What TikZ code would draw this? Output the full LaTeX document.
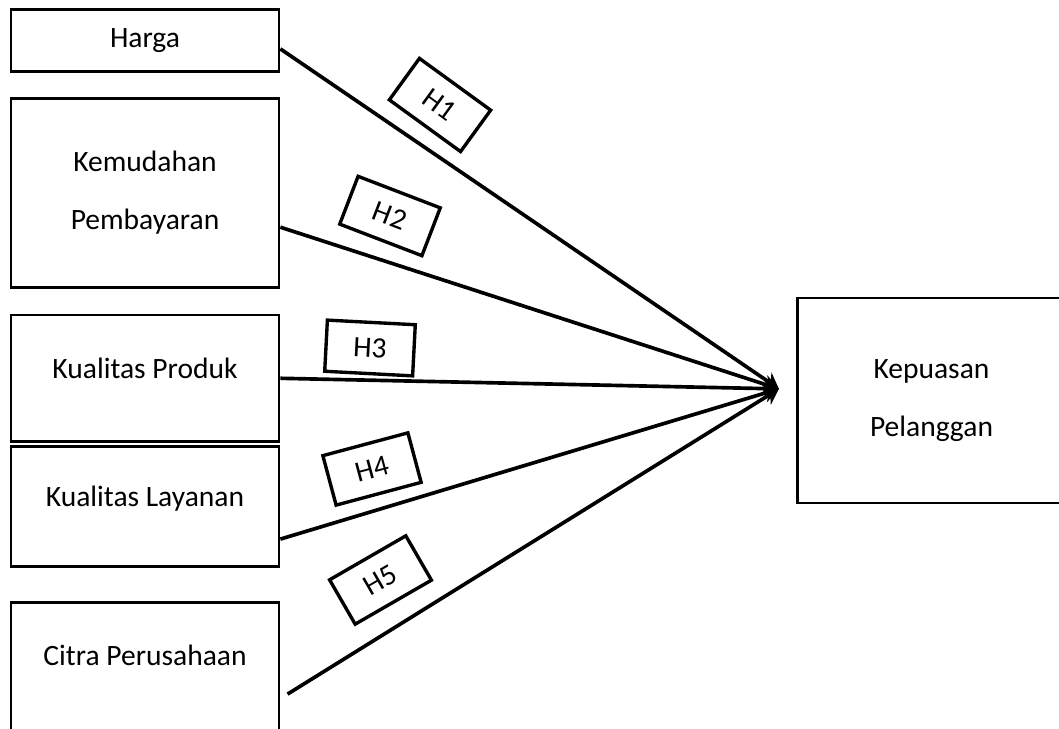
\documentclass[tikz,border=0pt]{standalone}
\usepackage{fontspec}
\setmainfont{Carlito}
\usetikzlibrary{arrows.meta}

\begin{document}
\begin{tikzpicture}[x=0.025cm, y=0.025cm, >={Stealth[length=0.38cm,width=0.46cm]}]
        \tikzstyle{var}=[draw, line width=1.9pt, shape=rectangle, minimum width=6.7cm, align=center, inner sep=0pt, font=\fontsize{21}{41}\selectfont]
        \tikzstyle{single}=[text height=0.5cm, text depth=0.5cm]
        \tikzstyle{hyp}=[draw, line width=2.4pt, shape=rectangle, minimum width=2.2cm, minimum height=1.28cm, inner sep=0pt, font=\fontsize{21}{25}\selectfont]
        \tikzstyle{path}=[->, line width=2.6pt]

        \useasboundingbox (0,0) rectangle (1059,729);

        \node[var, minimum height=1.56cm](harga) at (145, 688.5){Harga};
        \node[var, minimum height=4.72cm](kemudahan) at (145, 536.2){Kemudahan\\Pembayaran};
        \node[var, single, minimum height=3.17cm](produk) at (145, 350.7){Kualitas Produk};
        \node[var, single, minimum height=3.0cm](layanan) at (145, 222.3){Kualitas Layanan};
        \node[var, text height=0.5cm, text depth=1.09cm, minimum height=3.75cm](citra) at (145, 51.3){Citra Perusahaan};
        \node[var, minimum height=5.12cm](kepuasan) at (931.5, 328.5){Kepuasan\\Pelanggan};

        \coordinate (tip) at ([xshift=-0.43cm, yshift=0.29cm]kepuasan.west);

        \node[hyp, rotate=-36](h1) at (440, 624){H1};
        \node[hyp, rotate=-21](h2) at (390, 513){H2};
        \node[hyp, rotate=-3](h3) at (370, 381){H3};
        \node[hyp, rotate=15](h4) at (372, 260){H4};
        \node[hyp, rotate=30](h5) at (380.5, 149){H5};

        \draw[path] ([yshift=-0.21cm]harga.east) -- (tip);
        \draw[path] ([yshift=-0.86cm]kemudahan.east) -- (tip);
        \draw[path] (produk.east) -- (tip);
        \draw[path] ([yshift=-0.81cm]layanan.east) -- (tip);
        \draw[path] ([xshift=0.18cm, yshift=-0.41cm]citra.east) -- (tip);

        \end{tikzpicture}
\end{document}
